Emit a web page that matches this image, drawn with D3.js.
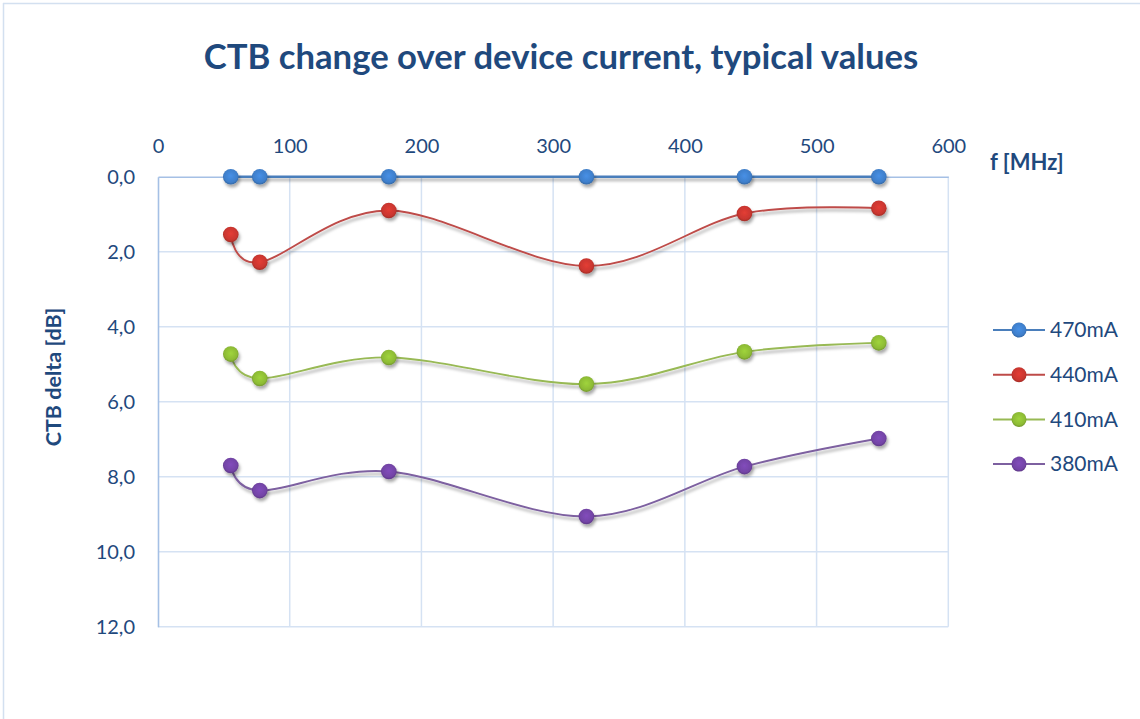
<!DOCTYPE html>
<html><head><meta charset="utf-8">
<script src="https://cdn.jsdelivr.net/npm/d3@7"></script>
<style>
html,body{margin:0;padding:0;background:#fff;}
svg{display:block;font-family:Lato,"Open Sans",sans-serif;}
</style></head>
<body>
<svg id="chart" width="1140" height="719"></svg>
<script>
// ---- data ----
const freqs = [55.25, 77.25, 175.25, 325.25, 445.25, 547.25];
const seriesNames = ["470mA", "440mA", "410mA", "380mA"];
const ma470 = [0, 0, 0, 0, 0, 0];
const ma440 = [1.54, 2.28, 0.90, 2.38, 0.98, 0.84];
const ma410 = [4.73, 5.38, 4.82, 5.53, 4.67, 4.43];
const ma380 = [7.70, 8.37, 7.86, 9.06, 7.73, 6.98];
const xTicks = [0, 100, 200, 300, 400, 500, 600];
const yTicks = [0, 2, 4, 6, 8, 10, 12];
const seriesColors = ["#4A7EBB", "#BE4B48", "#98B954", "#7D60A0"];
const markerColors = ["#3F7FCB", "#C9362F", "#8DBB35", "#7344A6"];
const allValues = [ma470, ma440, ma410, ma380];

const svg = d3.select("#chart");
const textColor = "#1F497D";

// frame borders (top & left)
svg.append("line").attr("x1",3).attr("x2",1140).attr("y1",3.5).attr("y2",3.5).attr("stroke","#D3E0F0").attr("stroke-width",1.5);
svg.append("line").attr("x1",3.5).attr("x2",3.5).attr("y1",3).attr("y2",719).attr("stroke","#D3E0F0").attr("stroke-width",1.5);

// defs
const defs = svg.append("defs");
const f = defs.append("filter").attr("id","shadow").attr("filterUnits","userSpaceOnUse")
  .attr("x",0).attr("y",0).attr("width",1140).attr("height",719);
f.append("feDropShadow").attr("dx",1.5).attr("dy",3).attr("stdDeviation",1.8).attr("flood-color","#000").attr("flood-opacity",0.33);
markerColors.forEach((c,i)=>{
  const g = defs.append("radialGradient").attr("id","mg"+i).attr("cx","50%").attr("cy","45%").attr("r","55%");
  g.append("stop").attr("offset","0%").attr("stop-color",d3.color(c).brighter(0.35));
  g.append("stop").attr("offset","75%").attr("stop-color",c);
  g.append("stop").attr("offset","100%").attr("stop-color",d3.color(c).darker(0.6));
});

// scales
const x = d3.scaleLinear().domain([0,600]).range([158,948.3]);
const y = d3.scaleLinear().domain([0,12]).range([176.7,626.7]);

// title
svg.append("text").attr("x",561).attr("y",69).attr("text-anchor","middle")
  .attr("font-weight","bold").attr("font-size",34.7).attr("fill",textColor)
  .text("CTB change over device current, typical values");

// gridlines
const grid = svg.append("g");
grid.selectAll(".vg").data(xTicks.slice(1)).join("line")
  .attr("x1",d=>x(d)).attr("x2",d=>x(d)).attr("y1",y(0)).attr("y2",y(12))
  .attr("stroke","#D5E2F3").attr("stroke-width",1.5);
grid.selectAll(".hg").data(yTicks.slice(1)).join("line")
  .attr("x1",x(0)).attr("x2",x(600)).attr("y1",d=>y(d)).attr("y2",d=>y(d))
  .attr("stroke","#D5E2F3").attr("stroke-width",1.5);

// axes
const fmt = d => d3.format(".1f")(d).replace(".", ",");
const xAxis = svg.append("g").attr("transform",`translate(0,${y(0)})`)
  .call(d3.axisTop(x).tickValues(xTicks).tickSize(0).tickPadding(24).tickFormat(d3.format("d")));
const yAxis = svg.append("g").attr("transform",`translate(${x(0)},0)`)
  .call(d3.axisLeft(y).tickValues(yTicks).tickSize(0).tickPadding(23).tickFormat(fmt));
[xAxis,yAxis].forEach(a=>{
  a.selectAll("text").attr("font-size",20).attr("fill",textColor).attr("font-family","Lato,'Open Sans',sans-serif");
  a.select(".domain").attr("stroke","#A5C0E5").attr("stroke-width",1.6);
});

// axis titles
svg.append("text").attr("transform","translate(61,377) rotate(-90)").attr("text-anchor","middle")
  .attr("font-weight","bold").attr("font-size",21.5).attr("fill",textColor).text("CTB delta [dB]");
svg.append("text").attr("x",990).attr("y",170).attr("font-weight","bold").attr("font-size",22)
  .attr("fill",textColor).text("f [MHz]");

// series
const line = d3.line().x(d=>x(d[0])).y(d=>y(d[1])).curve(d3.curveCardinal.tension(0));
const plot = svg.append("g");
allValues.forEach((vals,i)=>{
  const pts = freqs.map((fq,j)=>[fq, vals[j]]);
  const g = plot.append("g").attr("filter","url(#shadow)");
  g.append("path").datum(pts).attr("d",line).attr("fill","none")
    .attr("stroke",seriesColors[i]).attr("stroke-width", i===0 ? 2.4 : 1.9);
});
allValues.forEach((vals,i)=>{
  const pts = freqs.map((fq,j)=>[fq, vals[j]]);
  plot.append("g").attr("filter","url(#shadow)").selectAll("circle").data(pts).join("circle")
    .attr("cx",d=>x(d[0])).attr("cy",d=>y(d[1])).attr("r",7.8)
    .attr("fill",`url(#mg${i})`);
});

// legend
const leg = svg.append("g");
seriesNames.forEach((name,i)=>{
  const ly = 330 + i*44.7;
  leg.append("line").attr("x1",993).attr("x2",1045).attr("y1",ly).attr("y2",ly)
    .attr("stroke",seriesColors[i]).attr("stroke-width",2);
  leg.append("circle").attr("cx",1019).attr("cy",ly).attr("r",7.5).attr("fill",`url(#mg${i})`);
  leg.append("text").attr("x",1050).attr("y",ly).attr("dy","0.35em").attr("font-size",21)
    .attr("fill",textColor).text(name);
});
</script>
</body></html>
